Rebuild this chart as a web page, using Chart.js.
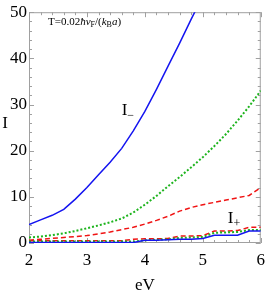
<!DOCTYPE html>
<html>
<head>
<meta charset="utf-8">
<script src="https://cdn.jsdelivr.net/npm/chart.js@4"></script>
<style>
  html, body { margin: 0; padding: 0; background: #fff; }
  #wrap { width: 272px; height: 293px; }
</style>
</head>
<body>
<div id="wrap"><canvas id="chart"></canvas></div>
<script>
// energy grid (eV)
const eV = [2.0, 2.2, 2.4, 2.6, 2.8, 3.0, 3.2, 3.4, 3.6, 3.8, 4.0, 4.2, 4.4, 4.6, 4.8, 5.0, 5.2, 5.4, 5.6, 5.8, 6.0];

// I- branch
const blueMinus = [4.0, 5.0, 6.0, 7.3, 9.5, 12.0, 14.8, 17.5, 20.5, 24.3, 28.5, 33.3, 38.3, 43.3, 48.5, 53.5, null, null, null, null, null];
const greenMinus = [1.2, 1.4, 1.7, 2.1, 2.6, 3.2, 3.8, 4.5, 5.3, 6.6, 8.3, 10.2, 12.3, 14.3, 16.4, 18.6, 21.0, 23.6, 26.5, 29.6, 33.0];
const redMinus = [0.6, 0.8, 1.0, 1.2, 1.4, 1.6, 2.0, 2.4, 2.9, 3.4, 4.1, 4.9, 5.8, 6.9, 7.7, 8.3, 8.8, 9.3, 9.8, 10.3, 12.0];

// I+ branch
const redPlus = [0.5, 0.5, 0.5, 0.5, 0.5, 0.5, 0.5, 0.5, 0.5, 0.8, 0.9, 0.9, 1.0, 1.5, 1.5, 1.6, 2.6, 2.6, 2.7, 3.4, 3.4];
const greenPlus = [0.3, 0.3, 0.3, 0.3, 0.3, 0.3, 0.3, 0.3, 0.3, 0.3, 0.6, 0.7, 0.8, 1.1, 1.2, 1.3, 2.2, 2.3, 2.4, 2.8, 2.8];
const bluePlus = [0.1, 0.1, 0.1, 0.1, 0.1, 0.1, 0.1, 0.1, 0.1, 0.1, 0.6, 0.6, 0.7, 0.8, 0.8, 1.0, 1.7, 1.7, 1.7, 2.6, 2.6];

const xTicks = [2, 3, 4, 5, 6];
const yTicks = [0, 10, 20, 30, 40, 50];

const BLUE = "#1414f0";
const RED = "#f01414";
const GREEN = "#1eb41e";
const SERIF = "'Liberation Serif', 'DejaVu Serif', serif";

function pts(values) {
  return eV.map((x, i) => ({ x: x, y: values[i] }));
}

function makeSet(values, color, style) {
  const ds = {
    data: pts(values),
    borderColor: color,
    borderWidth: 1.5,
    pointRadius: 0,
    tension: 0,
    fill: false
  };
  if (style === "dash") ds.borderDash = [5, 3];
  if (style === "dot") { ds.borderDash = [2, 2]; ds.borderWidth = 2; }
  return ds;
}

// frame with inner ticks, Mathematica style
const framePlugin = {
  id: "frame",
  beforeDatasetsDraw(chart) {
    const ctx = chart.ctx;
    const a = chart.chartArea;
    const xs = chart.scales.x;
    const ys = chart.scales.y;
    ctx.save();
    ctx.strokeStyle = "#a0a0a0";
    ctx.lineWidth = 1;
    ctx.strokeRect(a.left + 0.5, a.top + 0.5, a.right - a.left - 1, a.bottom - a.top - 1);
    ctx.beginPath();
    for (let v = 2; v <= 6.001; v += 0.2) {
      const px = Math.round(xs.getPixelForValue(v)) + 0.5;
      const major = Math.abs(v - Math.round(v)) < 0.01;
      const len = major ? 5 : 3;
      ctx.moveTo(px, a.bottom); ctx.lineTo(px, a.bottom - len);
      ctx.moveTo(px, a.top); ctx.lineTo(px, a.top + len);
    }
    for (let v = 0; v <= 50.001; v += 2) {
      const py = Math.round(ys.getPixelForValue(v)) + 0.5;
      const major = v % 10 === 0;
      const len = major ? 5 : 3;
      ctx.moveTo(a.left, py); ctx.lineTo(a.left + len, py);
      ctx.moveTo(a.right, py); ctx.lineTo(a.right - len, py);
    }
    ctx.stroke();
    ctx.restore();
  },
  afterDraw(chart) {
    const ctx = chart.ctx;
    const xs = chart.scales.x;
    const ys = chart.scales.y;
    ctx.save();
    ctx.fillStyle = "#000";
    ctx.textBaseline = "middle";

    // axis titles
    ctx.font = "17px " + SERIF;
    ctx.textAlign = "center";
    ctx.fillText("I", 5, 124);
    ctx.fillText("eV", (chart.chartArea.left + chart.chartArea.right) / 2, 286);

    // curve labels
    function label(x, y, sub) {
      const px = xs.getPixelForValue(x);
      const py = ys.getPixelForValue(y);
      ctx.textAlign = "left";
      ctx.font = "17px " + SERIF;
      ctx.fillText("I", px, py);
      const w = ctx.measureText("I").width;
      ctx.font = "12px " + SERIF;
      ctx.fillText(sub, px + w, py + 5);
    }
    label(3.6, 28.6, "\u2212");
    label(5.43, 5.3, "+");

    // temperature note
    let cx = 48;
    const cy = 22;
    ctx.textAlign = "left";
    function put(t, font, dy) {
      ctx.font = font;
      ctx.fillText(t, cx, cy + (dy || 0));
      cx += ctx.measureText(t).width;
    }
    put("T=0.02", "11px " + SERIF);
    put("\u0127v", "italic 11px " + SERIF);
    put("F", "8px " + SERIF, 3);
    put("/(", "11px " + SERIF);
    put("k", "italic 11px " + SERIF);
    put("B", "8px " + SERIF, 3);
    put("a", "italic 11px " + SERIF);
    put(")", "11px " + SERIF);
    ctx.restore();
  }
};

new Chart(document.getElementById("chart"), {
  type: "line",
  data: {
    datasets: [
      makeSet(bluePlus, BLUE, "solid"),
      makeSet(greenPlus, GREEN, "dot"),
      makeSet(redPlus, RED, "dash"),
      makeSet(redMinus, RED, "dash"),
      makeSet(greenMinus, GREEN, "dot"),
      makeSet(blueMinus, BLUE, "solid")
    ]
  },
  options: {
    responsive: true,
    maintainAspectRatio: false,
    animation: false,
    layout: { padding: { top: 7, right: 5, left: 0, bottom: 0 } },
    plugins: { legend: { display: false }, tooltip: { enabled: false } },
    scales: {
      x: {
        type: "linear",
        min: 2,
        max: 6,
        afterFit: (s) => { s.height = 50; },
        afterBuildTicks: (s) => { s.ticks = xTicks.map(v => ({ value: v })); },
        grid: { display: false, drawTicks: false },
        border: { display: false },
        ticks: { color: "#000", padding: 7, font: { family: SERIF, size: 17 } }
      },
      y: {
        min: 0,
        max: 50,
        afterFit: (s) => { s.width = 29; },
        afterBuildTicks: (s) => { s.ticks = yTicks.map(v => ({ value: v })); },
        grid: { display: false, drawTicks: false },
        border: { display: false },
        ticks: { color: "#000", padding: 2, font: { family: SERIF, size: 17 } }
      }
    }
  },
  plugins: [framePlugin]
});
</script>
</body>
</html>
